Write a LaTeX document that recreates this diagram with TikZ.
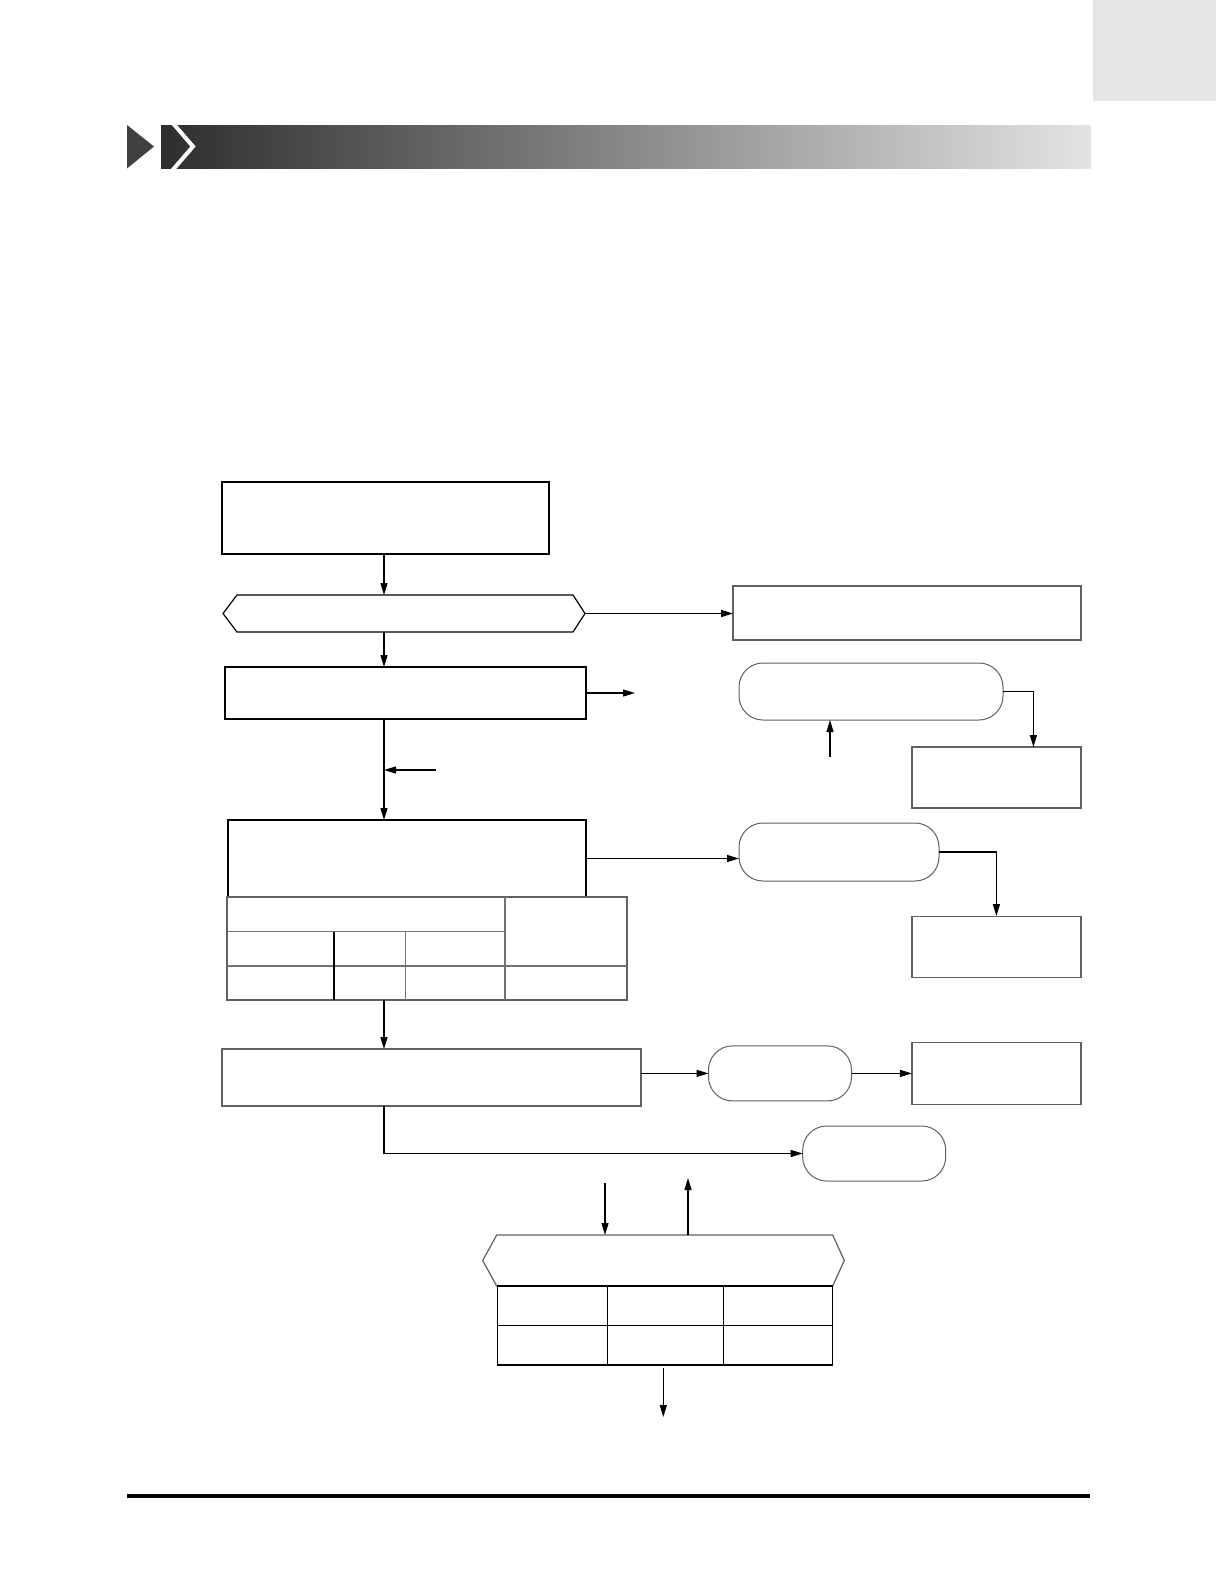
\documentclass[tikz,border=0pt]{standalone}
\usetikzlibrary{arrows.meta}

\tikzset{
    x=1pt, y=-1pt,
    flowbox/.style={draw, line width=1.3pt, inner sep=0pt, outer sep=0pt},
    sidebox/.style={draw=black!62, line width=1.2pt, inner sep=0pt, outer sep=0pt},
    pill/.style={draw=black!62, line width=1pt, rounded corners=24pt, inner sep=0pt, outer sep=0pt},
    hexframe/.style={inner sep=0pt, outer sep=0pt},
    flow/.style={line width=1.3pt, -{Triangle[length=12pt,width=7pt]}},
    gridline/.style={draw=black!55, line width=1.1pt}
}

\begin{document}
\begin{tikzpicture}
\useasboundingbox (0,0) rectangle (1216,1588);

% page header
\fill[black!10] (1093,0) rectangle (1216,101);
\fill[black!75] (127,125) -- (154,146.5) -- (127,168.5) -- cycle;
\shade[left color=black!82, right color=black!11] (161,125) rectangle (1090.5,168.5);
\draw[white, line width=4pt] (171,121) -- (193,146.5) -- (171,172);
\fill[black] (127,1494) rectangle (1090,1498);

\coordinate (spine) at (384,0);

% left column
\node[
    flowbox,
    minimum width=327pt,
    minimum height=72pt
] (init) at (385.5,518) {};

\node[
    hexframe,
    minimum width=362pt,
    minimum height=37pt
] (check) at (404,613.5) {};
\draw[line width=1.2pt]
    ([xshift=14pt]check.north west) -- ([xshift=-12pt]check.north east)
    -- (check.east) -- ([xshift=-12pt]check.south east)
    -- ([xshift=14pt]check.south west) -- (check.west) -- cycle;

\node[
    flowbox,
    minimum width=361pt,
    minimum height=52pt
] (prep) at (405.5,693) {};

\node[
    flowbox,
    minimum width=358pt,
    minimum height=77pt
] (form) at (407,858.5) {};

\node[
    sidebox,
    minimum width=400pt,
    minimum height=103pt
] (formtab) at (427,948.5) {};
\draw[gridline] (227,931.7) -- (505,931.7);
\draw[gridline] (227,966) -- (627,966);
\draw[gridline] (505,897) -- (505,1000);
\draw[line width=1.2pt] (334,931.7) -- (334,1000);
\draw[gridline] (405.7,931.7) -- (405.7,1000);

\node[
    sidebox,
    minimum width=419pt,
    minimum height=57pt
] (send) at (431.5,1077.5) {};

% right column
\node[
    sidebox,
    minimum width=348pt,
    minimum height=54pt
] (notice) at (907,613) {};

\node[
    pill,
    minimum width=264pt,
    minimum height=57pt
] (retry) at (871,691.5) {};

\node[
    sidebox,
    minimum width=169pt,
    minimum height=61pt
] (retrynote) at (996.4,777.5) {};

\node[
    pill,
    minimum width=200pt,
    minimum height=58pt
] (confirm) at (839,852) {};

\node[
    sidebox,
    minimum width=169pt,
    minimum height=61pt
] (confirmnote) at (996.4,946.6) {};

\node[
    pill,
    minimum width=143pt,
    minimum height=55pt
] (accept) at (780,1073.4) {};

\node[
    sidebox,
    minimum width=169pt,
    minimum height=62pt
] (acceptnote) at (996.4,1073.3) {};

\node[
    pill,
    minimum width=143pt,
    minimum height=55pt
] (reject) at (874.2,1153.5) {};

% lookup at the bottom
\node[
    hexframe,
    minimum width=361.6pt,
    minimum height=51pt
] (lookup) at (663.5,1260.5) {};
\draw[draw=black!62, line width=1.2pt]
    ([xshift=14pt]lookup.north west) -- ([xshift=-11.6pt]lookup.north east)
    -- (lookup.east) -- ([xshift=-11.6pt]lookup.south east)
    -- ([xshift=14pt]lookup.south west) -- (lookup.west) -- cycle;

\node[
    flowbox,
    minimum width=335pt,
    minimum height=79pt
] (lookuptab) at (664.8,1325.5) {};
\draw[line width=1.3pt] (497.3,1325.3) -- (832.3,1325.3);
\foreach \cx in {607.3,723.3}
    \draw[line width=1.3pt] (\cx,1286) -- (\cx,1365);

% loose ends
\coordinate (in2) at (436,770);
\coordinate (out1) at (635,693);
\coordinate (in1) at (830,757);
\coordinate (in3) at (605,1183);
\coordinate (out3) at (688,1178);
\coordinate (out4) at (663.3,1417);

% connectors
\draw[flow] (init.south -| spine) -- (check.north -| spine);
\draw[flow] (check.south -| spine) -- (prep.north -| spine);
\draw[flow] (prep.south -| spine) -- (form.north -| spine);
\draw[flow] (in2) -- (in2 -| spine);
\draw[flow] (formtab.south -| spine) -- (send.north -| spine);
\draw[flow] (check.east) -- (check.east -| notice.west);
\draw[flow] (prep.east) -- (out1);
\draw[flow] (in1) -- (in1 |- retry.south);
\draw[flow] (retry.east) -| ([xshift=37pt]retrynote.north);
\draw[flow] (form.east) -- (form.east -| confirm.west);
\draw[flow] (confirm.east) -| (confirmnote.north);
\draw[flow] (send.east |- accept.west) -- (accept.west);
\draw[flow] (accept.east) -- (accept.east -| acceptnote.west);
\draw[flow] (send.south -| spine) |- (reject.west);
\draw[flow] (in3) -- (in3 |- lookup.north);
\draw[flow] (lookup.north -| out3) -- (out3);
\draw[flow] (out4 |- lookuptab.south) ++(0,3) -- (out4);
\end{tikzpicture}
\end{document}
